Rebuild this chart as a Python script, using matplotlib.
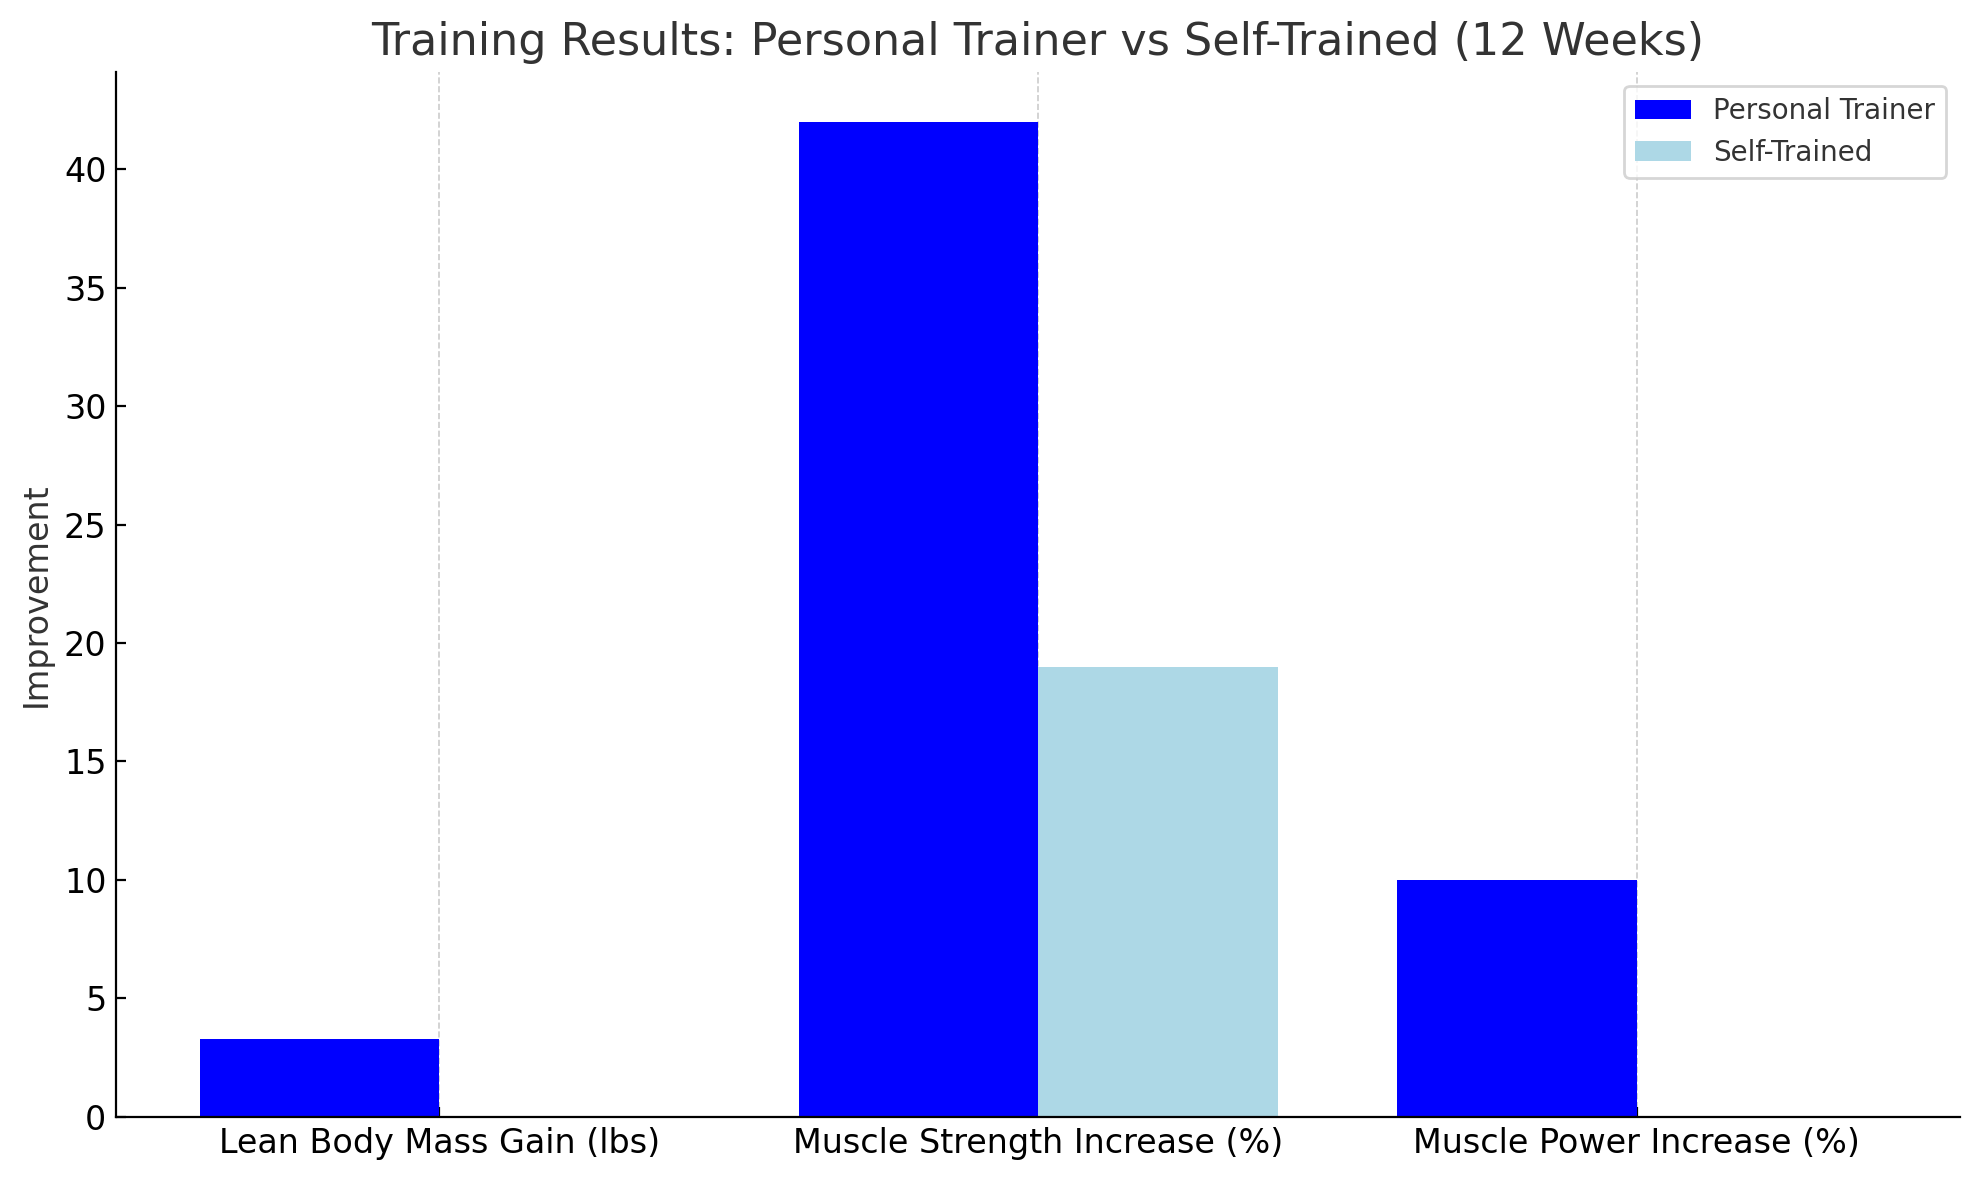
import numpy as np
import matplotlib.pyplot as plt

categories = ['Lean Body Mass Gain (lbs)', 'Muscle Strength Increase (%)', 'Muscle Power Increase (%)']
personal_trainer = [3.3, 42, 10]
self_trained = [0, 19, 0]

plt.rcParams['font.family'] = 'DejaVu Sans'
plt.rcParams['text.color'] = '#333333'
plt.rcParams['axes.labelcolor'] = '#333333'
plt.rcParams['xtick.direction'] = 'in'
plt.rcParams['ytick.direction'] = 'in'

fig, ax = plt.subplots(figsize=(9.895, 5.9), dpi=200)

x = np.arange(len(categories))
width = 0.4
ax.bar(x - width / 2, personal_trainer, width, label='Personal Trainer', color='blue')
ax.bar(x + width / 2, self_trained, width, label='Self-Trained', color='lightblue')

ax.set_title('Training Results: Personal Trainer vs Self-Trained (12 Weeks)', fontsize=16)
ax.set_ylabel('Improvement', fontsize=12)
ax.set_xticks(x)
ax.set_xticklabels(categories, fontsize=12)
ax.tick_params(axis='y', labelsize=12)
ax.grid(axis='x', linestyle='--', color='#cccccc', linewidth=0.6)
ax.set_axisbelow(True)
ax.spines['top'].set_visible(False)
ax.spines['right'].set_visible(False)
ax.legend(fontsize=10, loc='upper right')

fig.subplots_adjust(left=0.0587, right=0.9904, bottom=0.0535, top=0.939)
plt.savefig('out.png', dpi=200)
